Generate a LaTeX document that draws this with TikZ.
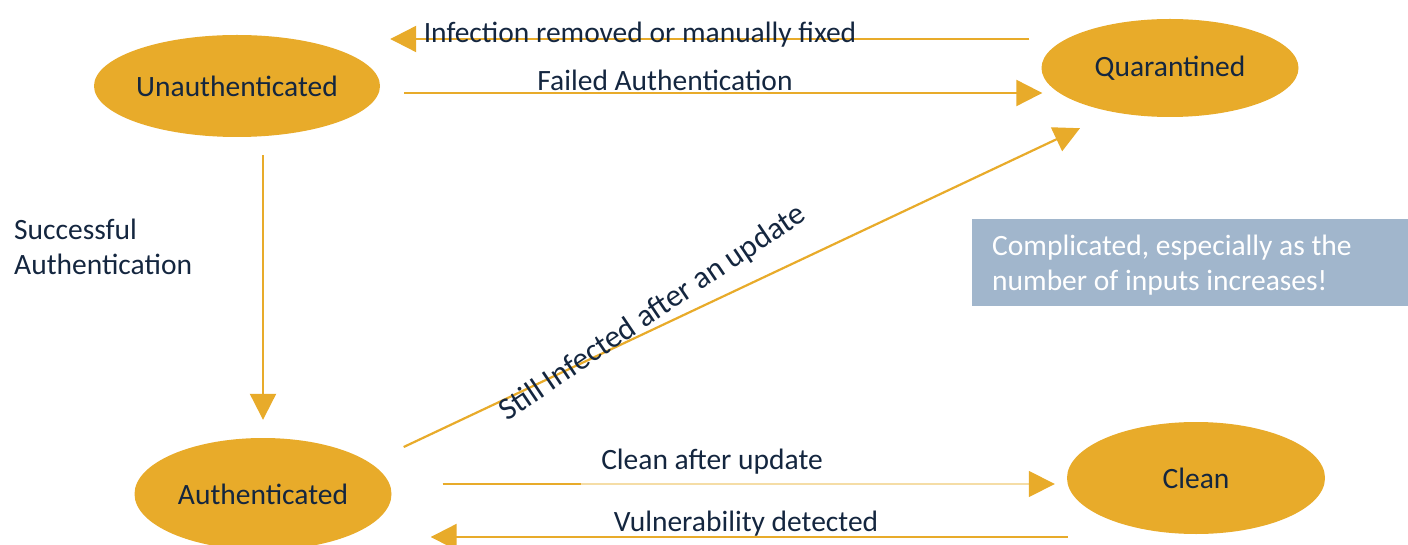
\documentclass[tikz,border=0pt]{standalone}
\usepackage{fontspec}
\setmainfont{Carlito}
\usetikzlibrary{arrows.meta,calc,shapes.geometric}
\definecolor{gold}{HTML}{E8AB2A}
\definecolor{palegold}{HTML}{F5DDA6}
\definecolor{ink}{HTML}{14263F}
\definecolor{note}{HTML}{A1B6CC}
\tikzset{
  state/.style={ellipse, fill=gold, draw=none, text=ink, font=\fontsize{29.5}{35}\selectfont, inner sep=0pt},
  arr/.style={draw=gold, line width=2.2pt, -{Triangle[length=26pt,width=26pt]}},
  lbl/.style={text=ink, font=\fontsize{29.5}{35}\selectfont, inner sep=0pt},
}
\begin{document}
\begin{tikzpicture}[x=1pt,y=-1pt]
\useasboundingbox (0,0) rectangle (1408,545);

% states
\node[state, minimum width=286pt, minimum height=102pt] (u) at (237,86) {Unauthenticated};
\node[state, minimum width=257pt, minimum height=98pt] (q) at (1170,68) {Quarantined};
\node[state, minimum width=257pt, minimum height=112pt] (a) at (263,494) {Authenticated};
\node[state, minimum width=258pt, minimum height=112pt] (c) at (1196,478) {Clean};

% note box
\fill[note] (972,219) rectangle (1408,306);
\node[anchor=west, align=left, text=white, font=\fontsize{29.5}{35}\selectfont, inner sep=0pt] (n) at (992,265)
  {Complicated, especially as the\\number of inputs increases!};

% transitions
\draw[arr] ($(q.west)+(-12,-29)$) -- ($(u.east)+(10,-47)$);
\draw[arr] ($(u.east)+(24,7)$) -- ($(q.west)+(1,25)$);
\draw[arr] ($(u.south)+(26,18)$) -- ($(a.north)+(0,-18)$);
\draw[arr] ($(a.east)+(12,-47)$) -- ($(q.south)+(-90,11)$);
\draw[draw=palegold, line width=1.6pt, -{Triangle[length=26pt,width=26pt,color=gold,fill=gold]}]
  ($(a.east)+(51,-10)$) coordinate (cs) -- ($(c.west)+(-12,6)$);
\draw[draw=gold, line width=2.2pt] (cs) -- ++(138,0);
\draw[arr] ($(c.west)+(1,59)$) -- ($(a.east)+(39,43)$);

% labels
\node[lbl] (l1) at (640,35) {Infection removed or manually fixed};
\node[lbl] (l2) at (665,80) {Failed Authentication};
\node[lbl, anchor=west, align=left] (l3) at (14,247) {Successful\\Authentication};
\node[lbl, rotate=34, font=\fontsize{31.5}{36}\selectfont] (l4) at (653,313) {Still Infected after an update};
\node[lbl] (l5) at (712,462) {Clean after update};
\node[lbl] (l6) at (746,524) {Vulnerability detected};
\end{tikzpicture}
\end{document}
